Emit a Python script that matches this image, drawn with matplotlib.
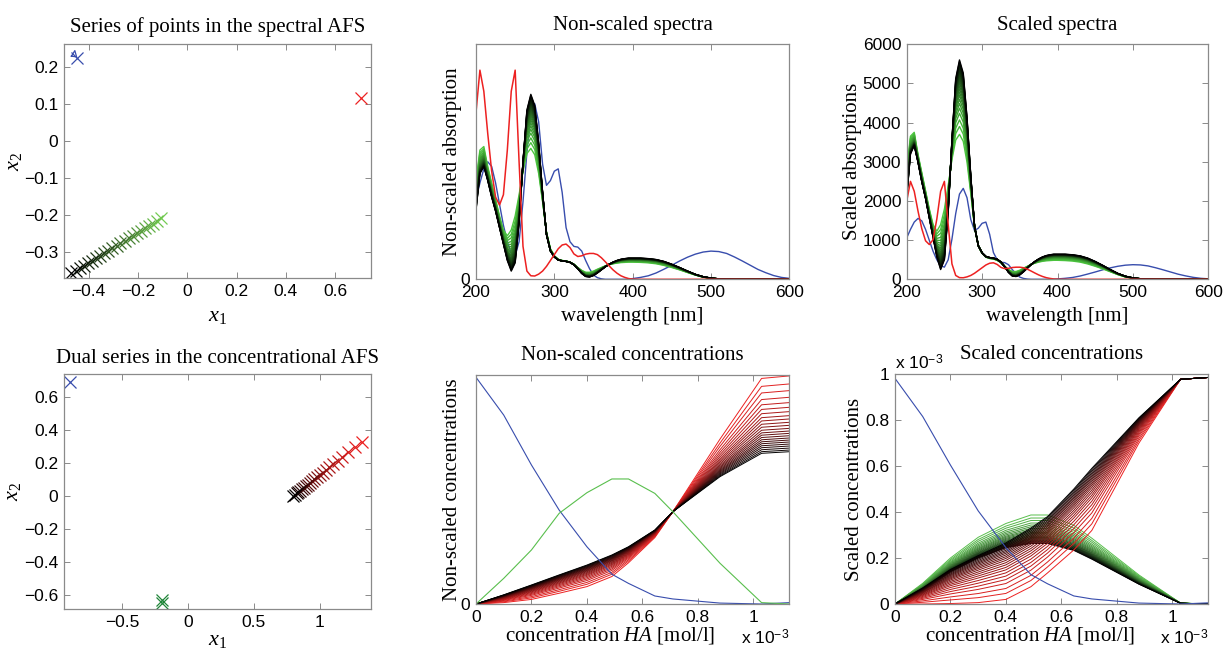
import matplotlib
matplotlib.use("Agg")
import matplotlib.pyplot as plt
import numpy as np
from matplotlib.ticker import FuncFormatter, FixedLocator

plt.rcParams['font.family'] = 'Liberation Sans'
plt.rcParams['mathtext.fontset'] = 'custom'
plt.rcParams['mathtext.rm'] = 'Liberation Serif'
plt.rcParams['mathtext.it'] = 'Liberation Serif:italic'
plt.rcParams['mathtext.sf'] = 'Liberation Sans'

# ---------------- data ----------------
# weights of the members of each series (0 = coloured end, 1 = black end)
series_w = [0, 0.106, 0.194, 0.282, 0.352, 0.414, 0.471, 0.524, 0.568, 0.612, 0.652,
            0.692, 0.727, 0.758, 0.789, 0.819, 0.846, 0.872, 0.899, 0.925, 0.952, 0.978, 1.0]

# spectral AFS points
afs_s_series_x1 = [-0.105, -0.122, -0.138, -0.155, -0.171, -0.188, -0.205, -0.221, -0.238, -0.254,
                   -0.271, -0.287, -0.304, -0.321, -0.337, -0.354, -0.370, -0.387, -0.403, -0.420,
                   -0.437, -0.453, -0.470]
afs_s_series_x2 = [-0.210, -0.217, -0.224, -0.230, -0.237, -0.244, -0.251, -0.257, -0.264, -0.271,
                   -0.278, -0.284, -0.291, -0.298, -0.305, -0.312, -0.318, -0.325, -0.332, -0.339,
                   -0.345, -0.352, -0.359]
afs_s_blue = (-0.449, 0.224)
afs_s_blue_loop_x1 = [-0.470, -0.456, -0.449, -0.470]
afs_s_blue_loop_x2 = [0.228, 0.243, 0.226, 0.228]
afs_s_red = (0.705, 0.116)

# concentrational AFS points
afs_c_series_x1 = [1.320, 1.265, 1.219, 1.173, 1.137, 1.105, 1.075, 1.048, 1.025, 1.002, 0.981,
                   0.960, 0.942, 0.926, 0.910, 0.894, 0.880, 0.867, 0.853, 0.839, 0.825, 0.811, 0.800]
afs_c_series_x2 = [0.331, 0.296, 0.267, 0.238, 0.214, 0.194, 0.175, 0.158, 0.143, 0.128, 0.115,
                   0.102, 0.090, 0.080, 0.070, 0.060, 0.051, 0.042, 0.033, 0.025, 0.016, 0.007, 0.000]
afs_c_blue = (-0.894, 0.696)
afs_c_green_x1 = [-0.200, -0.193]
afs_c_green_x2 = [-0.636, -0.652]

# spectra (non-scaled, arbitrary units)
wavelength = [200, 205, 210, 215, 220, 225, 230, 235, 240, 245,
              250, 255, 260, 265, 270, 275, 280, 285, 290, 295,
              300, 305, 310, 315, 320, 325, 330, 335, 340, 345,
              350, 355, 360, 365, 370, 375, 380, 385, 390, 395,
              400, 410, 420, 430, 440, 450, 460, 470, 480, 490,
              500, 510, 520, 530, 540, 550, 560, 570, 580, 590, 600]
spec_red = [0.71, 0.89, 0.80, 0.62, 0.46, 0.35, 0.316, 0.36, 0.55, 0.80,
            0.89, 0.50, 0.14, 0.035, 0.015, 0.014, 0.022, 0.035, 0.055, 0.08,
            0.105, 0.13, 0.146, 0.15, 0.135, 0.108, 0.097, 0.10, 0.107, 0.11,
            0.11, 0.105, 0.092, 0.075, 0.057, 0.04, 0.026, 0.015, 0.008, 0.003,
            0.001, 0, 0, 0, 0, 0, 0, 0, 0, 0,
            0, 0, 0, 0, 0, 0, 0, 0, 0, 0, 0]
spec_blue = [0.34, 0.41, 0.47, 0.50, 0.48, 0.41, 0.32, 0.23, 0.16, 0.11,
             0.10, 0.16, 0.33, 0.54, 0.70, 0.747, 0.67, 0.49, 0.40, 0.42,
             0.46, 0.47, 0.37, 0.22, 0.16, 0.14, 0.137, 0.12, 0.08, 0.045,
             0.018, 0.007, 0.002, 0, 0, 0, 0, 0, 0, 0.001,
             0.003, 0.008, 0.015, 0.027, 0.043, 0.06, 0.078, 0.094, 0.107, 0.116,
             0.12, 0.118, 0.11, 0.095, 0.078, 0.06, 0.042, 0.028, 0.016, 0.008, 0.004]
spec_black = [0.295, 0.45, 0.48, 0.42, 0.35, 0.29, 0.22, 0.15, 0.08, 0.035,
              0.07, 0.24, 0.50, 0.72, 0.787, 0.74, 0.58, 0.37, 0.19, 0.12,
              0.095, 0.082, 0.078, 0.076, 0.072, 0.062, 0.045, 0.025, 0.012, 0.01,
              0.016, 0.027, 0.04, 0.053, 0.064, 0.073, 0.080, 0.085, 0.088, 0.09,
              0.09, 0.09, 0.088, 0.084, 0.076, 0.064, 0.05, 0.035, 0.021, 0.011,
              0.005, 0.002, 0.001, 0, 0, 0, 0, 0, 0, 0, 0]
spec_green = [0.42, 0.55, 0.565, 0.48, 0.41, 0.34, 0.27, 0.21, 0.185, 0.21,
              0.27, 0.36, 0.46, 0.535, 0.557, 0.53, 0.45, 0.33, 0.20, 0.13,
              0.10, 0.085, 0.08, 0.078, 0.073, 0.064, 0.05, 0.038, 0.03, 0.03,
              0.035, 0.043, 0.05, 0.057, 0.062, 0.066, 0.069, 0.071, 0.072, 0.073,
              0.073, 0.072, 0.07, 0.066, 0.059, 0.05, 0.04, 0.029, 0.018, 0.009,
              0.004, 0.001, 0, 0, 0, 0, 0, 0, 0, 0, 0]
# scale factors taking non-scaled spectra to scaled absorptions
scale_red = 2809
scale_blue = 3108
scale_green = 6643
scale_black = 7116

# concentrations (x in 1e-3 mol/l)
conc_HA = [0, 0.1, 0.2, 0.3, 0.4, 0.49, 0.55, 0.645, 0.71, 0.88, 1.03, 1.13]
ns_conc_blue = [0.99, 0.825, 0.607, 0.41, 0.25, 0.13, 0.09, 0.035, 0.022, 0.004, 0.0, 0.006]
ns_conc_green = [0, 0.112, 0.236, 0.396, 0.486, 0.546, 0.546, 0.483, 0.403, 0.178, 0.006, 0.0]
ns_conc_red = [0, 0.006, 0.02, 0.047, 0.076, 0.12, 0.18, 0.29, 0.403, 0.72, 0.985, 0.996]
ns_conc_black = [0, 0.04, 0.083, 0.127, 0.17, 0.214, 0.25, 0.323, 0.403, 0.556, 0.658, 0.665]
sc_conc_blue = [0.981, 0.815, 0.604, 0.405, 0.245, 0.128, 0.088, 0.035, 0.022, 0.004, 0.0, 0.005]
sc_conc_green = [0, 0.09, 0.2, 0.29, 0.35, 0.387, 0.387, 0.342, 0.286, 0.126, 0.004, 0.0]
sc_conc_green_black = [0, 0.06, 0.14, 0.2, 0.245, 0.263, 0.263, 0.233, 0.195, 0.086, 0.003, 0.0]
sc_conc_red = [0, 0.0, 0.002, 0.006, 0.02, 0.075, 0.135, 0.235, 0.32, 0.70, 0.977, 0.985]
sc_conc_red_black = [0, 0.07, 0.15, 0.21, 0.265, 0.33, 0.38, 0.50, 0.59, 0.81, 0.977, 0.985]

# ---------------- styling helpers ----------------
BLUE = (0.22, 0.30, 0.68)
RED = (0.93, 0.13, 0.13)
GREEN = (0.30, 0.78, 0.25)
GREEN_LIGHT = (0.45, 0.80, 0.32)
GREEN_DARK = (0.12, 0.52, 0.22)
GREEN_C = (0.35, 0.75, 0.30)
SERIF = 'Liberation Serif'
N = len(series_w)


def mix(c, i):
    f = i / (N - 1)
    return tuple((1 - f) * cc for cc in c)


def fmt(v, pos):
    s = '%g' % v
    return s.replace('-', '\u2212')


def style(ax, xt, yt, xlim, ylim):
    ax.set_xlim(*xlim)
    ax.set_ylim(*ylim)
    ax.xaxis.set_major_locator(FixedLocator(xt))
    ax.yaxis.set_major_locator(FixedLocator(yt))
    ax.xaxis.set_major_formatter(FuncFormatter(fmt))
    ax.yaxis.set_major_formatter(FuncFormatter(fmt))
    for s in ax.spines.values():
        s.set_color('#8a8a8a')
        s.set_linewidth(0.9)
    ax.tick_params(direction='in', length=4, width=0.7, color='#8a8a8a',
                   top=True, right=True, labelsize=12.5, pad=4, labelcolor='black')


fig = plt.figure(figsize=(12.23, 6.48), dpi=100)


def add_axes(l, r, t, b):
    return fig.add_axes([l / 1223, 1 - b / 648, (r - l) / 1223, (b - t) / 648])


ax1 = add_axes(64, 371, 44.3, 278.3)
ax2 = add_axes(476, 789.3, 44.3, 279.3)
ax3 = add_axes(906.7, 1208.3, 44.3, 279.3)
ax4 = add_axes(64, 371, 374, 609.3)
ax5 = add_axes(476, 789.3, 375, 604)
ax6 = add_axes(895, 1208.3, 374, 604)

# ---- panel 1: spectral AFS ----
ms = 8.5
mw = 0.9
for i in range(N):
    ax1.plot(afs_s_series_x1[i], afs_s_series_x2[i], 'x', ms=ms, mew=mw, color=mix(GREEN_LIGHT, i))
ax1.plot(afs_s_blue_loop_x1, afs_s_blue_loop_x2, '-', color=BLUE, lw=0.9)
ax1.plot(*afs_s_blue, 'x', ms=ms, mew=mw, color=BLUE)
ax1.plot(*afs_s_red, 'x', ms=ms, mew=mw, color=RED)
style(ax1, [-0.4, -0.2, 0, 0.2, 0.4, 0.6], [-0.3, -0.2, -0.1, 0, 0.1, 0.2], (-0.5, 0.745), (-0.372, 0.26))
ax1.set_title('Series of points in the spectral AFS', family=SERIF, fontsize=15, pad=9)
ax1.set_xlabel('$x_1$', fontsize=16)
ax1.set_ylabel('$x_2$', fontsize=16)

# ---- panel 2: non-scaled spectra ----
wl = np.array(wavelength)
ax2.plot(wl, spec_blue, color=BLUE, lw=1.0)
for i, w in enumerate(series_w):
    y = (1 - w) * np.array(spec_green) + w * np.array(spec_black)
    ax2.plot(wl, y, color=mix(GREEN, i), lw=1.0)
ax2.plot(wl, spec_red, color=RED, lw=1.1)
style(ax2, [200, 300, 400, 500, 600], [0], (200, 600), (0, 1))
ax2.set_title('Non-scaled spectra', family=SERIF, fontsize=15, pad=10)
ax2.set_xlabel('wavelength [nm]', family=SERIF, fontsize=15)
ax2.set_ylabel('Non-scaled absorption', family=SERIF, fontsize=15)

# ---- panel 3: scaled spectra ----
ax3.plot(wl, scale_blue * np.array(spec_blue), color=BLUE, lw=1.0)
for i, w in enumerate(series_w):
    y = (1 - w) * scale_green * np.array(spec_green) + w * scale_black * np.array(spec_black)
    ax3.plot(wl, y, color=mix(GREEN, i), lw=1.0)
ax3.plot(wl, scale_red * np.array(spec_red), color=RED, lw=1.1)
style(ax3, [200, 300, 400, 500, 600], [0, 1000, 2000, 3000, 4000, 5000, 6000], (200, 600), (0, 6000))
ax3.set_title('Scaled spectra', family=SERIF, fontsize=15, pad=10)
ax3.set_xlabel('wavelength [nm]', family=SERIF, fontsize=15)
ax3.set_ylabel('Scaled absorptions', family=SERIF, fontsize=15)

# ---- panel 4: concentrational AFS ----
for i in range(N):
    ax4.plot(afs_c_series_x1[i], afs_c_series_x2[i], 'x', ms=ms, mew=mw, color=mix(RED, i))
ax4.plot(*afs_c_blue, 'x', ms=ms, mew=mw, color=BLUE)
ax4.plot(afs_c_green_x1, afs_c_green_x2, 'x', ms=ms, mew=mw, color=GREEN_DARK, ls='none')
style(ax4, [-0.5, 0, 0.5, 1], [-0.6, -0.4, -0.2, 0, 0.2, 0.4, 0.6], (-0.94, 1.39), (-0.69, 0.743))
ax4.set_title('Dual series in the concentrational AFS', family=SERIF, fontsize=15, pad=8)
ax4.set_xlabel('$x_1$', fontsize=16)
ax4.set_ylabel('$x_2$', fontsize=16)

# ---- panel 5: non-scaled concentrations ----
cx = np.array(conc_HA)
for i, w in enumerate(series_w):
    y = (1 - w) * np.array(ns_conc_red) + w * np.array(ns_conc_black)
    ax5.plot(cx, y, color=mix(RED, i), lw=0.7)
ax5.plot(cx, ns_conc_blue, color=BLUE, lw=0.8)
ax5.plot(cx, ns_conc_green, color=GREEN_C, lw=0.8)
style(ax5, [0, 0.2, 0.4, 0.6, 0.8, 1.0], [0], (0, 1.13), (0, 1))
ax5.set_title('Non-scaled concentrations', family=SERIF, fontsize=15, pad=11)
ax5.set_xlabel('concentration $HA$ [mol/l]', family=SERIF, fontsize=15)
ax5.set_ylabel('Non-scaled concentrations', family=SERIF, fontsize=15)
ax5.text(1.0, -0.148, r'x 10$^{\mathsf{-3}}$', transform=ax5.transAxes, ha='right', va='center', fontsize=12.5)

# ---- panel 6: scaled concentrations ----
for i, w in enumerate(series_w):
    y = (1 - w) * np.array(sc_conc_green) + w * np.array(sc_conc_green_black)
    ax6.plot(cx, y, color=mix(GREEN_C, i), lw=0.7)
for i, w in enumerate(series_w):
    y = (1 - w) * np.array(sc_conc_red) + w * np.array(sc_conc_red_black)
    ax6.plot(cx, y, color=mix(RED, i), lw=0.7)
ax6.plot(cx, sc_conc_blue, color=BLUE, lw=0.8)
style(ax6, [0, 0.2, 0.4, 0.6, 0.8, 1.0], [0, 0.2, 0.4, 0.6, 0.8, 1.0], (0, 1.13), (0, 1))
ax6.set_title('Scaled concentrations', family=SERIF, fontsize=15, pad=11)
ax6.set_xlabel('concentration $HA$ [mol/l]', family=SERIF, fontsize=15)
ax6.set_ylabel('Scaled concentrations', family=SERIF, fontsize=15)
ax6.text(1.0, -0.148, r'x 10$^{\mathsf{-3}}$', transform=ax6.transAxes, ha='right', va='center', fontsize=12.5)
ax6.text(0.0, 1.005, r'x 10$^{\mathsf{-3}}$', transform=ax6.transAxes, ha='left', va='bottom', fontsize=12.5)

# label positions
ax1.yaxis.set_label_coords(-0.13, 0.5)
ax4.yaxis.set_label_coords(-0.134, 0.5)
ax2.yaxis.set_label_coords(-0.045, 0.5)
ax5.yaxis.set_label_coords(-0.045, 0.5)
ax3.yaxis.set_label_coords(-0.148, 0.5)
ax6.yaxis.set_label_coords(-0.1, 0.5)
ax1.xaxis.set_label_coords(0.5, -0.115)
ax2.xaxis.set_label_coords(0.5, -0.12)
ax3.xaxis.set_label_coords(0.5, -0.12)
ax4.xaxis.set_label_coords(0.5, -0.085)
ax5.xaxis.set_label_coords(0.429, -0.092)
ax6.xaxis.set_label_coords(0.431, -0.092)

fig.savefig('out.png', dpi=100)
